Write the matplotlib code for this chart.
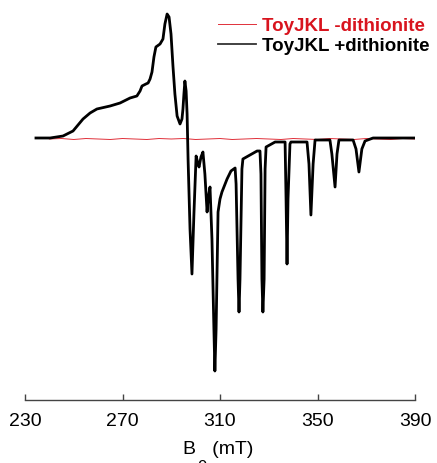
import matplotlib
matplotlib.use("Agg")
import matplotlib.pyplot as plt

plt.rcParams['font.family'] = ['Liberation Sans', 'DejaVu Sans']

# spectrum +dithionite: field (mT) and signal (a.u., baseline = 0)
field_plus = [234.5, 240.3, 245.6, 249.7, 253.8, 256.7, 259.5, 264.9, 269.0, 273.1,
              275.9, 277.2, 278.0, 279.6, 280.5, 281.3, 282.1, 282.9, 283.7, 285.4,
              286.6, 287.4, 288.3, 289.1, 289.9, 290.7, 291.5, 292.4, 293.6, 294.4,
              294.8, 295.2, 295.6, 296.1, 296.5, 296.9, 297.7, 298.5, 299.3, 300.2,
              301.0, 301.4, 302.2, 303.0, 303.8, 304.7, 305.1, 305.9, 306.7, 307.5,
              307.9, 308.4, 309.2, 310.0, 310.8, 312.9, 314.5, 316.2, 316.6, 317.4,
              317.8, 318.2, 319.0, 319.4, 322.3, 325.2, 326.4, 326.8, 327.2, 327.6,
              328.1, 328.5, 328.9, 332.6, 336.7, 337.1, 337.5, 337.9, 338.7, 339.1,
              345.7, 346.5, 347.3, 348.2, 349.0, 355.1, 355.9, 357.2, 358.0, 358.8,
              364.6, 365.8, 367.0, 368.2, 369.5, 372.8, 390.0]
signal_plus = [0, 0, 2, 7, 19, 25, 29, 32, 35, 40,
               42, 47, 52, 54, 55, 59, 66, 81, 91, 94,
               99, 114, 124, 121, 104, 72, 44, 22, 14, 19,
               29, 44, 57, 47, 24, -21, -91, -136, -76, -18,
               -26, -29, -19, -14, -36, -74, -61, -49, -101, -191,
               -233, -191, -74, -61, -54, -41, -33, -30, -46, -141,
               -174, -141, -31, -21, -17, -13, -13, -36, -141, -174,
               -141, -31, -9, -4, -4, -61, -126, -61, -6, -4,
               -4, -26, -77, -26, -2, -2, -16, -49, -16, -2,
               -2, -11, -34, -11, -3, 0, 0]

# spectrum -dithionite (flat, small noise)
field_minus = [240.0, 245.0, 250.0, 255.0, 260.0, 265.0, 270.0, 275.0, 280.0, 285.0,
               290.0, 295.0, 300.0, 305.0, 310.0, 315.0, 320.0, 325.0, 330.0, 335.0,
               340.0, 345.0, 350.0, 355.0, 360.0, 365.0, 370.0, 375.0, 380.0, 385.0, 390.0]
signal_minus = [-1, -0.5, -1.5, -0.5, -1, -1.5, -0.5, -1, -1.5, -0.5,
                -1, -0.5, -1.5, -1, -0.5, -1.5, -1, -0.5, -1, -1.5,
                -0.5, -1, -1.5, -0.5, -1, -1.5, -0.5, -1, -1.5, -0.5, -1]

tick_pos = [230, 270, 310, 350, 390]

fig = plt.figure(figsize=(4.37, 4.64), dpi=100)
ax = fig.add_axes([25 / 437, 63 / 464, 390 / 437, 401 / 464])

ax.plot(field_minus, signal_minus, color='#e0303a', lw=0.7, label='ToyJKL -dithionite')
ax.plot(field_plus, signal_plus, color='black', lw=2.0, label='ToyJKL +dithionite')

ax.set_xlim(230, 390)
ax.set_ylim(-262, 139)

for s in ['top', 'right', 'left']:
    ax.spines[s].set_visible(False)
ax.spines['bottom'].set_color('#444444')
ax.spines['bottom'].set_linewidth(1.0)
ax.set_yticks([])
ax.set_xticks(tick_pos)
ax.tick_params(axis='x', direction='in', length=4, width=1, color='#444444',
               labelsize=14, pad=9)

ax.set_xlabel('B   (mT)', fontsize=14)
ax.xaxis.set_label_coords(0.4949, -40 / 401)
fig.text(202 / 437, 1 - 460 / 464, '0', fontsize=12, ha='center', va='top')

leg = ax.legend(loc='upper left', bbox_to_anchor=(193 / 390, 1 - 18 / 401),
                frameon=False, prop={'weight': 'bold', 'size': 13.5},
                handlelength=2.0, handletextpad=0.35, labelspacing=0.15,
                borderaxespad=0, borderpad=0)
leg.get_texts()[0].set_color('#d8141e')
leg.get_texts()[1].set_color('black')
leg.get_lines()[1].set_linewidth(1.3)
leg.get_lines()[1].set_color('#333333')

fig.savefig('out.png', dpi=100)
